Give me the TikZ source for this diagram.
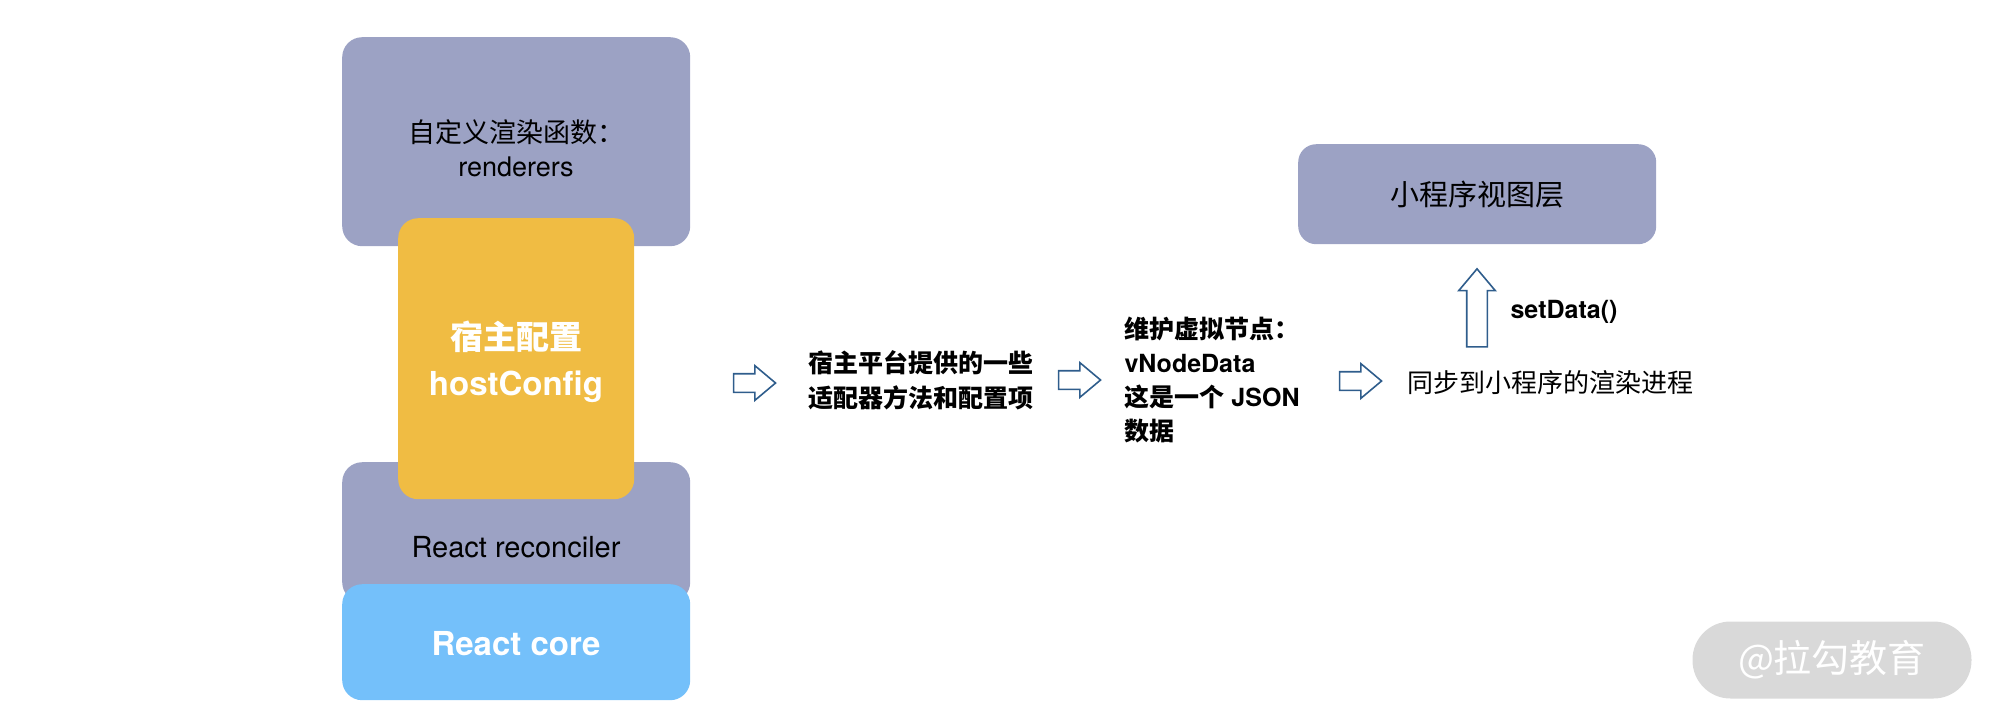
\documentclass[tikz,border=0pt]{standalone}
\usepackage{fontspec}
\setmainfont{TeX Gyre Heros}
\newfontfamily\cjk{Noto Sans CJK SC}
\usetikzlibrary{shapes.arrows, positioning}

\definecolor{layergray}{HTML}{9CA2C4}
\definecolor{hostyellow}{HTML}{F0BC43}
\definecolor{coreblue}{HTML}{74C0FA}
\definecolor{arrowblue}{HTML}{2F5D8C}
\definecolor{markgray}{HTML}{D9D9D9}

\newcommand{\fsz}[2]{\fontsize{#1}{#2}\selectfont}

\tikzset{
  layer/.style={anchor=north west, rounded corners=20pt, inner sep=0pt, fill=layergray},
  blockarrow/.style={single arrow, draw=arrowblue, fill=white, line width=1.6pt,
    inner xsep=0pt, inner ysep=8.5pt, minimum height=42pt, single arrow head extend=8pt,
    single arrow tip angle=80},
  note/.style={anchor=west, align=left, font=\bfseries\fsz{25}{35}},
}

\begin{document}
\begin{tikzpicture}[x=1pt,y=-1pt]
  \useasboundingbox (0,0) rectangle (2000,726);

  % stack of layers
  \node[layer, minimum width=348pt, minimum height=209pt] (rend) at (342,37) {};
  \node[layer, minimum width=348pt, minimum height=140pt] (rec) at (342,462) {};
  \node[layer, fill=coreblue, minimum width=348pt, minimum height=116pt] (core) at (342,584) {};
  \node[layer, fill=hostyellow, minimum width=236pt, minimum height=281pt] (host) at (398,218) {};

  \node[align=center, font=\fsz{27}{34}] (tRend) at (516,148) {{\cjk 自定义渲染函数：}\\renderers};
  \node[align=center, text=white, font=\bfseries\fsz{33}{46}] (tHost) at (516,362) {{\cjk 宿主配置}\\hostConfig};
  \node[font=\fsz{29}{34}] (tRec) at (516,547) {React reconciler};
  \node[text=white, font=\bfseries\fsz{33}{40}] (tCore) at (516,644) {React core};

  % flow to the mini program
  \node[blockarrow] (a1) at (749,383) {};
  \node[note] (tPlat) at (805,380) {{\cjk 宿主平台提供的一些}\\{\cjk 适配器方法和配置项}};
  \node[blockarrow] (a2) at (1074,380) {};
  \node[note, font=\bfseries\fsz{25}{34}] (tVnode) at (1121,380)
    {{\cjk 维护虚拟节点：}\\vNodeData\\{\cjk 这是一个} JSON\\{\cjk 数据}};
  \node[blockarrow] (a3) at (1355,381) {};
  \node[anchor=west, font=\cjk\fsz{26}{30}] (tSync) at (1404,383) {同步到小程序的渲染进程};

  \node[blockarrow, rotate=90, inner ysep=9.5pt, minimum height=78pt] (up) at (1477,314) {};
  \node[anchor=west, font=\bfseries\fsz{25}{30}] (tSet) at (1507,312) {setData()};

  \node[layer, rounded corners=18pt, minimum width=358pt, minimum height=100pt] (view) at (1298,144) {};
  \node[font=\cjk\fsz{29}{34}] (tView) at (view.center) {小程序视图层};

  % watermark
  \node[fill=markgray, rounded corners=38pt, minimum width=279pt, minimum height=77pt,
    text=white, font=\cjk\fsz{38}{40}] (mark) at (1832,660) {@拉勾教育};
\end{tikzpicture}
\end{document}
